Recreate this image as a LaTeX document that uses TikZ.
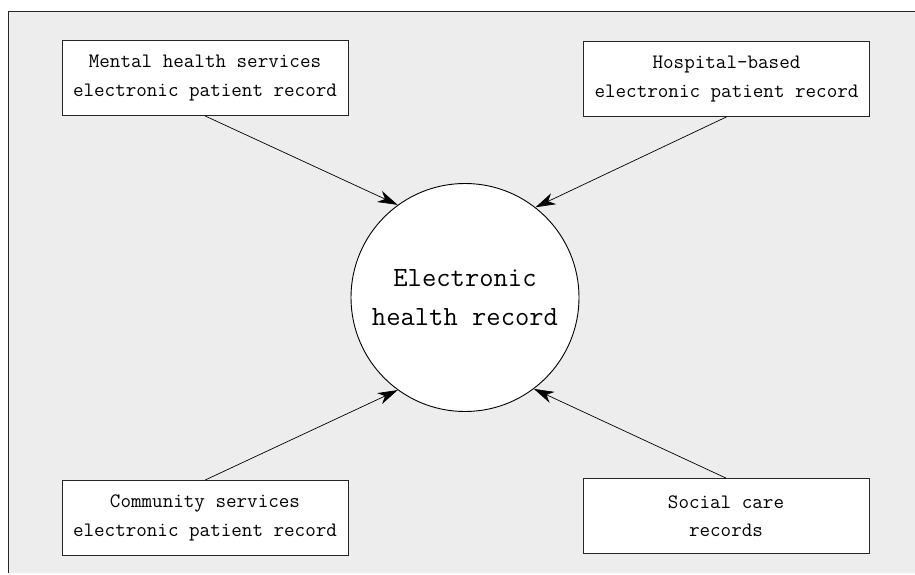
\documentclass[tikz,border=0pt]{standalone}
\usepackage{fontspec}
\usetikzlibrary{arrows.meta}
\begin{document}
\begin{tikzpicture}[x=1pt,y=-1pt,
  srcbox/.style={draw=black!85, fill=white, line width=0.8pt, minimum width=286pt, minimum height=75pt, align=center, font=\ttfamily\fontsize{20.5}{28.5}\selectfont, inner sep=0pt},
  ehrnode/.style={circle, draw=black, fill=white, line width=0.9pt, minimum size=228pt, align=center, font=\ttfamily\fontsize{27.8}{39}\selectfont, inner sep=0pt},
  feed/.style={-{Stealth[length=20pt,width=12pt,inset=6pt]}, line width=0.7pt}]
\useasboundingbox (0,0) rectangle (915,575);
\fill[black!7] (8,11) rectangle (915,573);
\draw[line width=0.8pt, black!85] (8,573) -- (8,11) -- (915,11);
\node[srcbox] (mh) at (205,78) {Mental health services\\electronic patient record};
\node[srcbox] (hosp) at (726.5,79) {Hospital-based\\electronic patient record};
\node[srcbox] (comm) at (205,518) {Community services\\electronic patient record};
\node[srcbox] (soc) at (726,516) {Social care\\records};
\node[ehrnode] (ehr) at (465,297.5) {Electronic\\health record};
\draw[feed] (mh.south) -- (ehr.126);
\draw[feed] (hosp.south) -- (ehr.52);
\draw[feed] (comm.north) -- (ehr.234);
\draw[feed] (soc.north) -- (ehr.307);
\end{tikzpicture}
\end{document}
